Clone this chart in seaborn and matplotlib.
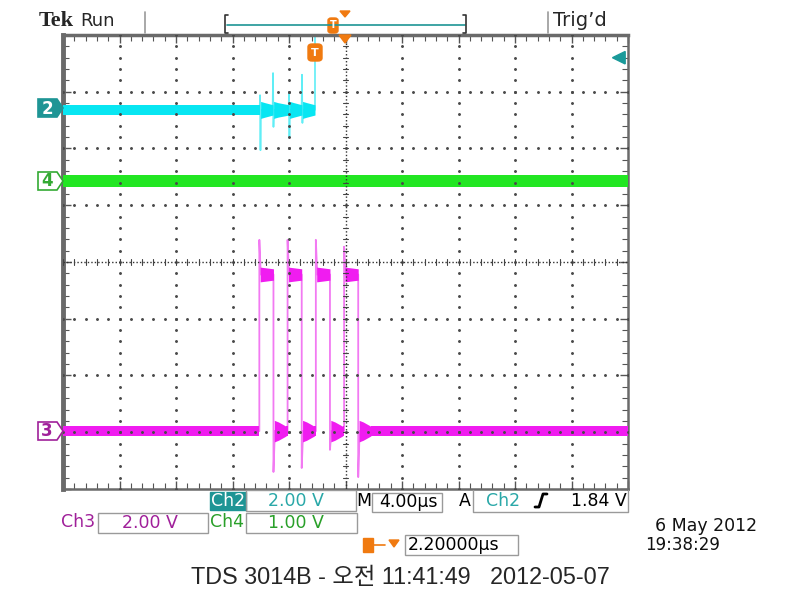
import numpy as np
import pandas as pd
import matplotlib
matplotlib.use("Agg")
import matplotlib.pyplot as plt
import seaborn as sns
from matplotlib.patches import Polygon, Rectangle, FancyBboxPatch
from matplotlib.lines import Line2D
from matplotlib.ticker import MultipleLocator

# ---------------- data (time in µs, vertical position in divisions) ----------------
# Channel 2 (cyan): idle level with four ringing spikes, then leaves the screen
ch2_level = 2.68
ch2_spike_t = [-6.05, -5.13, -4.0, -3.08]
ch2_spike_top = [2.94, 3.33, 2.98, 3.30]
ch2_spike_bottom = [1.97, 2.38, 2.20, 2.45]
ch2_end_t = -2.16
ch2_noise = 0.09
ch2_ring_noise = 0.15

# Channel 4 (green): flat line
ch4_t = [-20, 20]
ch4_v = [1.43, 1.43]
ch4_noise = 0.1

# Channel 3 (magenta): four pulses
ch3_rise = [-6.1, -4.1, -2.1, -0.1]
ch3_fall = [-5.1, -3.1, -1.1, 0.9]
ch3_over = [0.39, 0.39, 0.39, 0.27]
ch3_under = [-3.70, -3.63, -3.31, -3.79]
ch3_low = -2.98
ch3_high = -0.22
ch3_noise = 0.085
ch3_high_noise = [0.13, 0.1]
ch3_ring_noise = 0.19

ch2_scale_v = 2.00
trig_level_v = 1.84

sns.set_style("white")
plt.rcParams['font.family'] = ['DejaVu Sans', 'Noto Sans CJK KR']

W, H = 800, 600
fig = plt.figure(figsize=(8, 6), dpi=100)
fig.patch.set_facecolor('white')
L, R, T, B = 63, 628, 35, 489
ax = fig.add_axes([L / W, 1 - B / H, (R - L) / W, (B - T) / H])
ax.set_xlim(-20, 20)
ax.set_ylim(-4, 4)


def P(x, y):
    return (x / W, 1 - y / H)


def line(t, v, color, lw=1.2):
    df = pd.DataFrame({'t': np.asarray(t, float), 'v': np.asarray(v, float)})
    sns.lineplot(data=df, x='t', y='v', sort=False, estimator=None, ax=ax,
                 color=color, lw=lw, zorder=2)


def band(ts, level, ws, color):
    ts = np.asarray(ts, float); ws = np.asarray(ws, float)
    ax.fill_between(ts, level - ws, level + ws, color=color, lw=0, zorder=3)


# ---- channel 2 ----
C2B, C2L = '#08e6f2', '#60eef6'
t2, v2 = [-20], [ch2_level]
for s, top, bot in zip(ch2_spike_t, ch2_spike_top, ch2_spike_bottom):
    t2 += [s - 0.03, s, s + 0.03, s + 0.06]
    v2 += [ch2_level, top, bot, ch2_level]
t2 += [ch2_end_t, ch2_end_t]
v2 += [ch2_level, 4.6]
line(t2, v2, C2L)
band([-20, ch2_spike_t[0]], ch2_level, [ch2_noise, ch2_noise], C2B)
ends = ch2_spike_t[1:] + [ch2_end_t]
for s, e in zip(ch2_spike_t, ends):
    band([s + 0.04, s + 0.35, e], ch2_level, [ch2_ring_noise, ch2_ring_noise * 0.85, ch2_noise], C2B)

# ---- channel 4 ----
line(ch4_t, ch4_v, '#22e622')
band(ch4_t, ch4_v[0], [ch4_noise, ch4_noise], '#22e622')

# ---- channel 3 ----
C3B, C3L = '#f01cf0', '#f27af2'
t3, v3 = [-20], [ch3_low]
for r, f, o, u in zip(ch3_rise, ch3_fall, ch3_over, ch3_under):
    t3 += [r, r, r + 0.1, f, f, f + 0.1]
    v3 += [ch3_low, o, ch3_high, ch3_high, u, ch3_low]
t3 += [20]
v3 += [ch3_low]
line(t3, v3, C3L, lw=1.3)
band([-20, ch3_rise[0]], ch3_low, [ch3_noise, ch3_noise], C3B)
next_rise = ch3_rise[1:] + [20]
for r, f, nr in zip(ch3_rise, ch3_fall, next_rise):
    band([r + 0.06, f], ch3_high, ch3_high_noise, C3B)
    band([f + 0.06, f + 0.35, f + 0.9], ch3_low, [ch3_ring_noise, ch3_ring_noise * 0.85, ch3_noise], C3B)
    band([f + 0.9, nr], ch3_low, [ch3_noise, ch3_noise], C3B)

# ---------------- graticule ----------------
dot_kw = dict(color='#4a4a4a', marker='o', ms=1.1, ls='none', zorder=5)
ys = np.arange(-4, 4.001, 0.2)
xs = np.arange(-20, 20.001, 0.8)
for xv in np.arange(-16, 17, 4):
    if xv == 0:
        continue
    ax.plot(np.full_like(ys, xv), ys, **dot_kw)
for yv in range(-3, 4):
    if yv == 0:
        continue
    ax.plot(xs, np.full_like(xs, yv), **dot_kw)
ax.axvline(0, color='#333333', lw=1.0, ls=(0, (1, 1.5)), zorder=5)
ax.axhline(0, color='#333333', lw=1.0, ls=(0, (1, 1.5)), zorder=5)
for yv in ys:
    ax.plot([-0.2, 0.2], [yv, yv], color='#444444', lw=0.8, zorder=5)
for xv in xs:
    ax.plot([xv, xv], [-0.05, 0.05], color='#444444', lw=0.8, zorder=5)

ax.xaxis.set_major_locator(MultipleLocator(4))
ax.xaxis.set_minor_locator(MultipleLocator(0.8))
ax.yaxis.set_major_locator(MultipleLocator(1))
ax.yaxis.set_minor_locator(MultipleLocator(0.2))
ax.tick_params(which='both', direction='in', top=True, right=True, bottom=True, left=True,
               labelbottom=False, labelleft=False, color='#555555')
ax.tick_params(which='major', length=6, width=1)
ax.tick_params(which='minor', length=4, width=0.8)
ax.set_xlabel(''); ax.set_ylabel('')
for s in ['top', 'bottom', 'right']:
    ax.spines[s].set_color('#6a6a6a'); ax.spines[s].set_linewidth(1.8)
ax.spines['left'].set_color('#6a6a6a'); ax.spines['left'].set_linewidth(3.5)
ax.spines['top'].set_linewidth(2.5)

# trigger level arrow (right edge)
trig_div = ch2_level + trig_level_v / ch2_scale_v
ax.add_patch(Polygon([(18.9, trig_div), (19.8, trig_div + 0.11), (19.8, trig_div - 0.11)],
                     closed=True, color='#1a9a9a', zorder=6, clip_on=False))

# ---------------- figure-level decorations ----------------
ft = fig.transFigure
TEAL = '#1e9595'
ORANGE = '#f07a10'
FS = 12.5


def ftext(x, y, s, **kw):
    kw.setdefault('va', 'center')
    fig.text(*P(x, y), s, **kw)


def fline(pts, **kw):
    xy = [P(*p) for p in pts]
    fig.add_artist(Line2D([a for a, b in xy], [b for a, b in xy], transform=ft, **kw))


def fpoly(pts, **kw):
    fig.add_artist(Polygon([P(*p) for p in pts], closed=True, transform=ft, **kw))


def frect(x0, y0, x1, y1, **kw):
    x, y = P(x0, y1)
    fig.add_artist(Rectangle((x, y), (x1 - x0) / W, (y1 - y0) / H, transform=ft, **kw))


# header
ftext(39, 21, 'Tek', family='Liberation Serif', fontweight='bold', fontsize=16)
ftext(80, 21, 'Run', fontsize=13)
fline([(145, 12), (145, 33)], color='#999999', lw=1.2)
fline([(548, 12), (548, 33)], color='#999999', lw=1.2)
ftext(553, 21, "Trig\u2019d", fontsize=14)
fline([(227, 25), (465, 25)], color=TEAL, lw=1.2)
fline([(228, 15), (225, 15), (225, 33), (228, 33)], color='#333333', lw=1.2)
fline([(463, 15), (466, 15), (466, 33), (463, 33)], color='#333333', lw=1.2)
fpoly([(340, 11), (350, 11), (345, 17)], color=ORANGE)
x0, y0 = P(328, 33)
fig.add_artist(FancyBboxPatch((x0, y0), 10 / W, 15 / H, boxstyle='round,pad=0,rounding_size=0.004',
                              transform=ft, color=ORANGE))
ftext(333, 25.5, 'T', color='white', fontsize=7, fontweight='bold', ha='center')

# trigger position marker & T marker at top of graticule
fpoly([(339, 35), (351, 35), (345, 43)], color=ORANGE, zorder=10)
x0, y0 = P(308, 61)
fig.add_artist(FancyBboxPatch((x0, y0), 14 / W, 17 / H, boxstyle='round,pad=0,rounding_size=0.005',
                              transform=ft, color=ORANGE, zorder=10))
ftext(315, 52.5, 'T', color='white', fontsize=8, fontweight='bold', ha='center', zorder=11)


# channel ground markers
def chmarker(y, label, fc, ec, tc):
    fpoly([(38, y - 9), (57, y - 9), (63, y), (57, y + 9), (38, y + 9)], fc=fc, ec=ec, lw=1.2,
          zorder=10)
    ftext(47, y + 0.5, label, color=tc, fontsize=12, fontweight='bold', ha='center', zorder=11)


chmarker(108, '2', TEAL, TEAL, 'white')
chmarker(181, '4', 'white', '#33aa33', '#33aa33')
chmarker(431, '3', 'white', '#a0209a', '#a0209a')

# bottom readouts
BOX = dict(fill=False, ec='#9a9a9a', lw=1.0)
frect(210, 492, 246, 510, color=TEAL)
ftext(228, 501, 'Ch2', color='white', fontsize=FS, ha='center')
frect(246, 490, 356, 511, **BOX)
ftext(296, 501, '2.00 V', color='#2aa8a8', fontsize=FS, ha='center')
ftext(356, 501, 'M', color='black', fontsize=FS)
frect(372, 493, 442, 512, **BOX)
ftext(408, 502, '4.00\u00b5s', color='black', fontsize=FS, ha='center')
ftext(459, 501, 'A', color='black', fontsize=FS)
fline([(473, 490), (473, 512), (628, 512), (628, 490)], color='#9a9a9a', lw=1.0)
ftext(486, 501, 'Ch2', color='#2aa8a8', fontsize=FS)
fline([(535, 507), (539, 507), (543, 494), (547, 494)], color='black', lw=2)
ftext(627, 501, '1.84 V', color='black', fontsize=FS, ha='right')

ftext(61, 522, 'Ch3', color='#a0209a', fontsize=FS)
frect(98, 513, 208, 533, **BOX)
ftext(150, 523, '2.00 V', color='#a0209a', fontsize=FS, ha='center')
ftext(210, 522, 'Ch4', color='#2aa02a', fontsize=FS)
frect(246, 513, 357, 533, **BOX)
ftext(296, 523, '1.00 V', color='#2aa02a', fontsize=FS, ha='center')

frect(363, 538, 373, 552, color=ORANGE)
fline([(373, 545), (385, 545)], color=ORANGE, lw=1.2)
fpoly([(389, 540), (399, 540), (394, 547)], color=ORANGE)
frect(405, 535, 518, 555, **BOX)
ftext(408, 545, '2.20000\u00b5s', color='black', fontsize=FS)

ftext(757, 526, '6 May 2012', color='#111111', fontsize=FS, ha='right')
ftext(645, 545, '19:38:29', color='#111111', fontsize=12)

fig.text(0.5, 1 - 578 / H, 'TDS 3014B - \uc624\uc804 11:41:49   2012-05-07', ha='center', va='center',
         fontsize=16.8, family=['Liberation Sans', 'Noto Sans CJK KR'])

fig.savefig('out.png', dpi=100, facecolor='white')
